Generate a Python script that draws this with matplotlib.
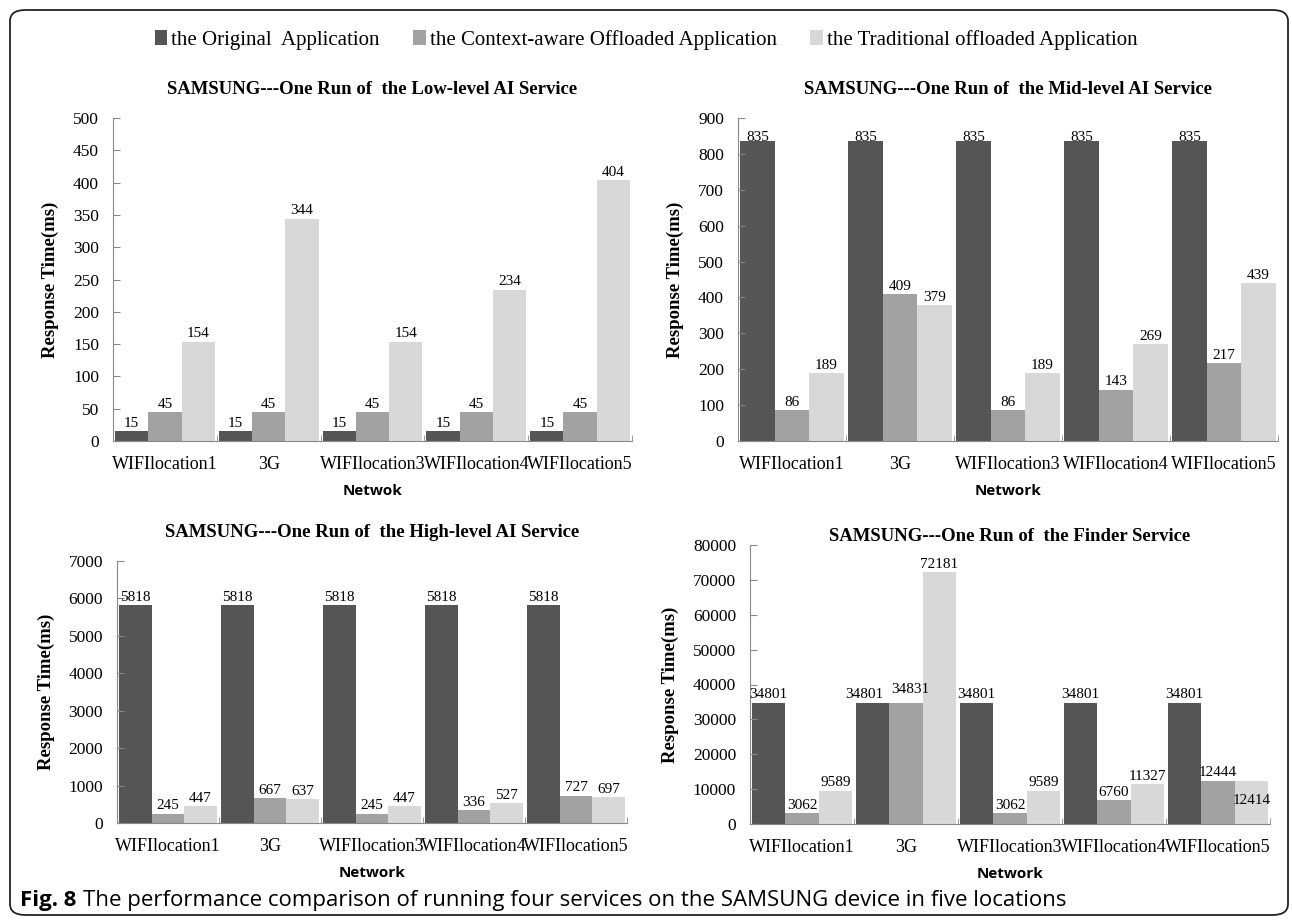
import matplotlib.pyplot as plt
import numpy as np
from matplotlib.patches import FancyBboxPatch
from matplotlib.patches import Patch

W, H = 1292, 921

networks = ["WIFIlocation1", "3G", "WIFIlocation3", "WIFIlocation4", "WIFIlocation5"]
series_names = ["the Original  Application", "the Context-aware Offloaded Application",
                "the Traditional offloaded Application"]
colors = ["#555555", "#a2a2a2", "#d8d8d8"]

# Low-level AI service
low_orig = [15, 15, 15, 15, 15]
low_ctx = [45, 45, 45, 45, 45]
low_trad = [154, 344, 154, 234, 404]

# Mid-level AI service
mid_orig = [835, 835, 835, 835, 835]
mid_ctx = [86, 409, 86, 143, 217]
mid_trad = [189, 379, 189, 269, 439]

# High-level AI service
high_orig = [5818, 5818, 5818, 5818, 5818]
high_ctx = [245, 667, 245, 336, 727]
high_trad = [447, 637, 447, 527, 697]

# Finder service
finder_orig = [34801, 34801, 34801, 34801, 34801]
finder_ctx = [3062, 34831, 3062, 6760, 12444]
finder_trad = [9589, 72181, 9589, 11327, 12414]

serif = "Liberation Serif"


def px_axes(fig, left, top, right, bottom):
    # pixel box -> figure fraction
    return fig.add_axes([left / W, 1 - bottom / H, (right - left) / W, (bottom - top) / H])


def draw_panel(ax, data, ymax, step, title, xlabel, title_pad, label_nudge=None):
    label_nudge = label_nudge or {}
    x = np.arange(len(networks))
    bw = 0.32
    for i, vals in enumerate(data):
        bars = ax.bar(x + (i - 1) * bw, vals, bw, color=colors[i], edgecolor="none")
        for j, (b, v) in enumerate(zip(bars, vals)):
            dx, dy = label_nudge.get((i, j), (0, 0))
            ax.annotate(str(v), (b.get_x() + b.get_width() / 2, v), xytext=(dx, 1 + dy),
                        textcoords="offset points", ha="center", va="bottom",
                        fontsize=11, family=serif)
    ax.set_xlim(-0.5, len(networks) - 0.5)
    ax.set_ylim(0, ymax)
    ax.set_yticks(np.arange(0, ymax + 1, step))
    ax.set_xticks(x)
    ax.set_xticklabels(networks, fontsize=13, family=serif)
    ax.set_xticks(np.arange(-0.5, len(networks)), minor=True)
    ax.tick_params(axis="x", which="major", length=0, pad=11)
    ax.tick_params(axis="x", which="minor", length=4, direction="in", color="#888888")
    ax.tick_params(axis="y", length=5, direction="in", color="#888888", labelsize=12.5, pad=10)
    for lab in ax.get_yticklabels():
        lab.set_family(serif)
    for s in ["top", "right"]:
        ax.spines[s].set_visible(False)
    ax.spines["left"].set_color("#888888")
    ax.spines["bottom"].set_color("#888888")
    ax.set_ylabel("Response Time(ms)", fontsize=13.5, fontweight="bold", family=serif, labelpad=10)
    ax.set_title(title, fontsize=13.5, fontweight="bold", family=serif, pad=title_pad)
    ax.set_xlabel(xlabel, fontsize=11, fontweight="bold", family="Open Sans", labelpad=8)


fig = plt.figure(figsize=(W / 100, H / 100), dpi=100)

# rounded frame around the figure
frame = FancyBboxPatch((10 / W, 6 / H), 1278 / W, 905 / H, boxstyle="round,pad=0,rounding_size=0.012",
                       transform=fig.transFigure, fill=False, edgecolor="#222222", linewidth=1.3)
fig.patches.append(frame)

ax1 = px_axes(fig, 113, 118, 632, 441)
draw_panel(ax1, [low_orig, low_ctx, low_trad], 500, 50,
           "SAMSUNG---One Run of  the Low-level AI Service", "Netwok", 17)

ax2 = px_axes(fig, 738, 118, 1278, 441)
draw_panel(ax2, [mid_orig, mid_ctx, mid_trad], 900, 100,
           "SAMSUNG---One Run of  the Mid-level AI Service", "Network", 17,
           {(0, j): (0, -3) for j in range(5)})

ax3 = px_axes(fig, 117, 561, 627, 823)
draw_panel(ax3, [high_orig, high_ctx, high_trad], 7000, 1000,
           "SAMSUNG---One Run of  the High-level AI Service", "Network", 17)

ax4 = px_axes(fig, 750, 545, 1270, 824)
draw_panel(ax4, [finder_orig, finder_ctx, finder_trad], 80000, 10000,
           "SAMSUNG---One Run of  the Finder Service", "Network", 3,
           {(0, 1): (-6, 0), (1, 1): (3, 4), (2, 4): (0, -20)})

handles = [Patch(facecolor=c) for c in colors]
fig.legend(handles, series_names, loc="center", bbox_to_anchor=(0.5, 1 - 40 / H), ncol=3,
           frameon=False, prop={"family": serif, "size": 15}, handlelength=0.6, handleheight=0.7,
           handletextpad=0.2, columnspacing=1.6)

fig.text(20 / W, 1 - 900 / H, "Fig. 8", fontsize=16, va="center", family="Open Sans",
         fontweight="bold")
fig.text(83 / W, 1 - 900 / H,
         "The performance comparison of running four services on the SAMSUNG device in five locations",
         fontsize=16, va="center", family="Open Sans")

fig.savefig("out.png", dpi=100)
